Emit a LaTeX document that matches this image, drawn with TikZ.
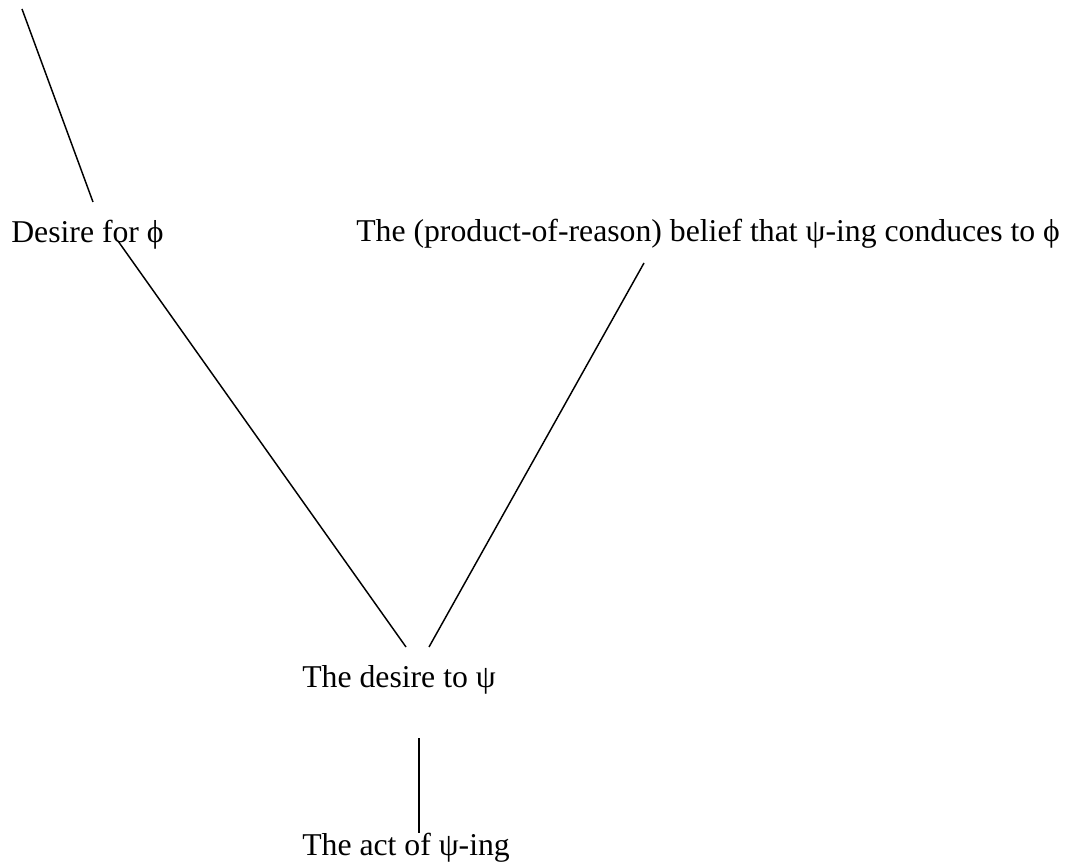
\documentclass[tikz,border=0pt]{standalone}
\usepackage{fontspec}
\setmainfont{Liberation Serif}
\usetikzlibrary{positioning}
\begin{document}
\begin{tikzpicture}[x=0.75pt,y=-0.75pt,
  lbl/.style={anchor=base west,inner sep=0pt,font=\fontsize{23.8}{28}\selectfont},
  link/.style={line width=1.1pt}]
\useasboundingbox (0,0) rectangle (1074,862);
\node[lbl] (phidesire) at (11,243) {Desire for ϕ};
\node[lbl] (belief) at (356,242) {The (product-of-reason) belief that ψ-ing conduces to ϕ};
\node[lbl] (psidesire) at (302,687) {The desire to ψ};
\node[lbl] (act) at (302,855) {The act of ψ-ing};
\coordinate (top) at (22,9);
\coordinate (topend) at (93,202);
\coordinate (phiout) at (118,241);
\coordinate (beliefout) at (644,263);
\coordinate (psiinl) at (406,647);
\coordinate (psiinr) at (429,647);
\coordinate (psiout) at (419,738);
\coordinate (actin) at (419,833);
\draw[link] (top) -- (topend);
\draw[link] (phiout) -- (psiinl);
\draw[link] (beliefout) -- (psiinr);
\draw[link] (psiout) -- (actin);
\end{tikzpicture}
\end{document}
